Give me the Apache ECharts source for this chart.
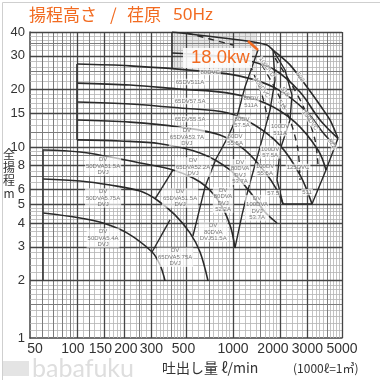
<!DOCTYPE html>
<html><head><meta charset="utf-8">
<script src="https://cdn.jsdelivr.net/npm/echarts@6/dist/echarts.min.js"></script>
<style>html,body{margin:0;padding:0;background:#fff}#c{width:380px;height:380px}</style>
</head><body><div id="c"></div>
<script>
// Axis tick labels
const xTicks = [50, 100, 150, 200, 300, 500, 1000, 2000, 3000, 5000];
const yTicks = [1, 2, 3, 4, 5, 6, 8, 10, 15, 20, 30, 40];
// grid line values
const xMajor = [100, 150, 200, 300, 500, 1000, 2000, 3000, 5000];
const xMedium = [60, 70, 80, 90, 120, 250, 400, 700, 1500, 4000];
const yMajor = [2, 3, 4, 5, 6, 8, 10, 15, 20, 30, 40];
const yMedium = [1.5, 7, 9, 12, 25, 35];
// H-Q curves (flow l/min, head m)
const arcA = [[60.6, 4.51], [104.6, 4.25], [147, 4.0], [209, 3.55], [303, 2.82], [341, 2.41], [367, 1.99]];
const arcB = [[60.6, 6.80], [104.6, 6.64], [163, 6.32], [254, 5.88], [326, 5.28], [425, 4.41], [530, 3.55], [615, 2.82], [692, 1.99]];
const arcC = [[60.6, 9.64], [104.6, 9.41], [163, 8.86], [254, 8.25], [413, 7.58], [615, 6.56], [802, 5.28], [957, 3.91], [1030, 2.96]];
const arcD = [[100, 10.9], [189, 10.75], [341, 10.4], [615, 9.30], [957, 7.58], [1286, 5.81], [1604, 4.57], [1916, 4.0]];
const arcE = [[100, 13.85], [219, 13.5], [458, 12.7], [826, 11.56], [1194, 9.64], [1604, 7.40], [1916, 5.95], [2093, 5.03]];
const arcF = [[100, 17.2], [219, 16.8], [458, 16.0], [916, 15.1], [1384, 13.0], [2003, 10.2], [2690, 7.14], [3212, 5.03]];
const arcG = [[100, 21.6], [219, 21.1], [458, 20.1], [916, 19.2], [1604, 17.0], [2498, 13.5], [3509, 9.64], [3948, 7.58]];
const arcH = [[100, 27.2], [219, 26.6], [615, 25.0], [1110, 23.5], [1860, 20.4], [2896, 15.6], [3890, 11.56], [4576, 10.2]];
const arcI = [[407, 31.05], [826, 29.95], [1286, 28.2], [1860, 25.3], [2690, 19.4], [3614, 13.85], [4713, 11.1]];
const envelope = [[407, 40], [1230, 35.9], [1653, 34.2], [1806, 32.2], [2321, 26.9], [2983, 20.6], [3722, 16.0], [4188, 13.85], [4713, 11.1]];
// model boundaries (straight segments)
const edgeRight = [[4713, 11.1], [3948, 7.58], [3212, 5.03], [2093, 5.03]];
const edgeBox = [[407, 40], [407, 25.6]];
const edge50 = [[60.6, 9.7], [60.6, 2.0]];
const edge65 = [[100, 27.2], [100, 10.9]];
const div50a = [[413, 7.58], [316, 5.34]];
const div50b = [[395, 4.15], [303, 2.82]];
const div65 = [[1447, 32.2], [1194, 20.6], [1061, 14.4], [930, 11.3], [778, 8.65], [662, 6.17], [554, 3.42]];
const div80 = [[1806, 32.2], [1860, 22.4], [1728, 15.6], [1535, 10.9], [1384, 8.05], [1248, 5.95], [1143, 4.41], [1030, 2.96]];
const div100 = [[2093, 5.03], [1916, 6.72], [2003, 9.64], [2321, 13.85], [2390, 18.7], [2156, 25.3], [1806, 32.2]];
// dashed curves
const dashA = [[1860, 29.2], [2390, 21.1], [2896, 15.6], [3356, 10.9], [3509, 8.05]];
const dashB = [[1535, 26.9], [1916, 19.4], [2321, 13.85], [2612, 9.64], [2690, 6.72]];
const dashC = [[507, 39.5], [1000, 34.2]];
const dashD = [[1286, 26.9], [1535, 18.7], [1677, 13.85]];
const orangeSeg = [[1248, 35.9], [1447, 32.2]];
// model labels
const labelText = ['DV\n50DVA51.5A\nDVJ', 'DV\n50DVA5.75A\nDVJ', 'DV\n50DVA5.4A\nDVJ',
  '65DV511A', '65DV57.5A', '65DV55.5A', 'DV\n65DVA53.7A\nDVJ', 'DV\n65DVA52.2A\nDVJ', 'DV\n65DVA51.5A\nDVJ', 'DV\n65DVA5.75A\nDVJ',
  '80DVC', '80DV\n511A', '80DV\n57.5A', '80DV\n55.5A', 'DV\n80DVA\nDVJ\n53.7A', 'DV\n80DVA\nDVJ\n52.2A', 'DV\n80DVA\nDVJ51.5A',
  '100DV\n511A', '100DV\n57.5A', '100DV\n55.5A', 'DV\n100DVA\nDVJ\n53.7A', '125DVC', '57.5', '511'];
const labelQ = [147, 147, 147, 531, 531, 531, 507, 555, 458, 426, 714, 1304, 1143, 1032, 1109, 864, 747, 2006, 1732, 1606, 1427, 2613, 1810, 2987];
const labelH = [7.95, 5.41, 3.34, 21.9, 17.4, 14.0, 11.3, 7.86, 5.41, 2.65, 24.7, 17.2, 13.5, 10.9, 7.4, 5.28, 3.59, 12.3, 9.4, 7.58, 4.8, 7.86, 5.74, 5.8];
const rotText = ['100DVD', '100DVC', '522', '518', '515', '150DVC', '522'];
const rotQ = [1649, 1531, 2697, 2158, 2060, 3127, 4314];
const rotH = [26.2, 20.4, 23.2, 19.4, 16.6, 13.8, 10.4];

function rng(a, b, s) { const r = []; for (let v = a; v <= b + 1e-9; v += s) r.push(+v.toFixed(3)); return r; }
const xMinor = [].concat(rng(55, 95, 5), rng(110, 190, 10), rng(220, 480, 20), rng(550, 950, 50), rng(1100, 1900, 100), rng(2200, 4800, 200));
const yMinor = [].concat(rng(1.1, 1.9, 0.1), rng(2.2, 4.8, 0.2), rng(5.5, 9.5, 0.5), rng(11, 19, 1), rng(22, 38, 2));

function gridSeries(xs, ys, color, width, z) {
  return {
    type: 'line', data: [], z: z, silent: true, animation: false,
    markLine: {
      silent: true, symbol: 'none', animation: false, label: { show: false },
      lineStyle: { color: color, width: width, type: 'solid' },
      data: xs.map(v => ({ xAxis: v })).concat(ys.map(v => ({ yAxis: v })))
    }
  };
}
function curve(d, opt) {
  opt = opt || {};
  return {
    type: 'line', data: d, showSymbol: false, symbol: 'none', smooth: opt.smooth === undefined ? 0.35 : opt.smooth,
    z: opt.z || 5, silent: true, animation: false,
    lineStyle: { color: opt.color || '#2a2a2a', width: opt.width || 1.6, type: opt.type || 'solid' }
  };
}
const series = [
  gridSeries(xMinor, yMinor, '#b4b4b4', 0.8, 1),
  gridSeries(xMedium, yMedium, '#7c7c7c', 1, 2),
  gridSeries(xMajor, yMajor, '#454545', 1.3, 3),
  {
    type: 'line', data: [], z: 2, silent: true,
    markArea: { silent: true, itemStyle: { color: 'rgba(120,120,120,0.18)' }, data: [[{ xAxis: 407, yAxis: 25 }, { xAxis: 1400, yAxis: 40 }]] }
  }
];
[arcA, arcB, arcC, arcD, arcE, arcF, arcG, arcH, arcI].forEach(c => series.push(curve(c)));
series.push(curve(envelope, { smooth: 0.25 }));
[edgeRight, edgeBox, div50a, div50b, div65, div80, div100].forEach(c => series.push(curve(c, { smooth: false, width: 1.4 })));
[edge50, edge65].forEach(c => series.push(curve(c, { smooth: false, width: 1.6, color: '#3a3a3a' })));
[dashA, dashB, dashC, dashD].forEach(c => series.push(curve(c, { smooth: 0.3, width: 1.4, type: [6, 5] })));
series.push(curve(orangeSeg, { smooth: false, color: '#f26b21', width: 2.5, z: 8 }));
series.push({
  type: 'scatter', z: 9, silent: true, symbolSize: 0,
  data: labelText.map((t, i) => ({ name: t, value: [labelQ[i], labelH[i]] })),
  label: { show: true, position: 'inside', formatter: p => p.name, fontSize: 6, lineHeight: 6.5, color: '#555',
    fontFamily: 'Liberation Sans', backgroundColor: 'rgba(255,255,255,0.85)', padding: [0, 1] }
});
series.push({
  type: 'scatter', z: 9, silent: true, symbolSize: 0,
  data: rotText.map((t, i) => ({ name: t, value: [rotQ[i], rotH[i]] })),
  label: { show: true, position: 'inside', rotate: -55, formatter: p => p.name, fontSize: 6, color: '#555',
    fontFamily: 'Liberation Sans', backgroundColor: 'rgba(255,255,255,0.85)', padding: [0, 1] }
});

const pad = { 50: [0, 0, 0, 10], 100: [0, 8, 0, 0], 150: [0, 8, 0, 0], 200: [0, 0, 0, 4], 500: [0, 5, 0, 0], 2000: [0, 14, 0, 0] };
const rich = {};
Object.keys(pad).forEach(k => { rich['p' + k] = { padding: pad[k], fontSize: 14, color: '#333', fontFamily: 'Liberation Sans' }; });

const chart = echarts.init(document.getElementById('c'), null, { renderer: 'canvas' });
chart.setOption({
  animation: false,
  backgroundColor: '#fff',
  grid: { left: 30, right: 38, top: 32, bottom: 42, show: false, containLabel: false, outerBoundsMode: 'none' },
  xAxis: {
    type: 'log', min: 50, max: 5000, logBase: 10,
    axisLine: { show: true, lineStyle: { color: '#444', width: 1.5 } },
    axisTick: { show: false }, splitLine: { show: false },
    axisLabel: { customValues: xTicks, color: '#333', fontSize: 14, fontFamily: 'Liberation Sans', margin: 4, rich: rich,
      formatter: v => pad[v] ? '{p' + v + '|' + v + '}' : String(v) }
  },
  yAxis: {
    type: 'log', min: 1, max: 40, logBase: 10,
    axisLine: { show: true, lineStyle: { color: '#444', width: 1.5 } },
    axisTick: { show: false }, splitLine: { show: false },
    axisLabel: { customValues: yTicks, color: '#333', fontSize: 13, fontFamily: 'Liberation Sans', margin: 5,
      formatter: v => String(v) }
  },
  graphic: [
    { type: 'rect', left: 0, top: 0, shape: { width: 379, height: 379 }, style: { fill: 'none', stroke: '#cfcfcf', lineWidth: 1 } },
    { type: 'text', x: 29, y: 15, style: { text: '揚程高さ', fill: '#f26b21', fontSize: 17, fontFamily: 'Noto Sans CJK JP', verticalAlign: 'middle' } },
    { type: 'text', x: 110, y: 15, style: { text: '/', fill: '#f26b21', fontSize: 17, fontFamily: 'Noto Sans CJK JP', verticalAlign: 'middle' } },
    { type: 'text', x: 127, y: 15, style: { text: '荏原', fill: '#f26b21', fontSize: 17, fontFamily: 'Noto Sans CJK JP', verticalAlign: 'middle' } },
    { type: 'text', x: 173, y: 15, style: { text: '50Hz', fill: '#f26b21', fontSize: 17, fontFamily: 'Noto Sans', verticalAlign: 'middle' } },
    { type: 'text', x: 9, y: 148, style: { text: '全\n揚\n程\nm', fill: '#333', fontSize: 12, lineHeight: 13, align: 'center', fontFamily: 'Noto Sans CJK JP' } },
    { type: 'text', x: 162, y: 368, style: { text: '吐出し量 ℓ/min', fill: '#333', fontSize: 14, fontFamily: 'Noto Sans CJK JP', verticalAlign: 'middle' } },
    { type: 'text', x: 293, y: 368, style: { text: '(1000ℓ=1㎥)', fill: '#333', fontSize: 12, fontFamily: 'Noto Sans CJK JP', verticalAlign: 'middle' } },
    { type: 'text', x: 32, y: 369, style: { text: 'babafuku', fill: '#dedede', fontSize: 25, fontFamily: 'Lato', verticalAlign: 'middle' } },
    { type: 'rect', x: 3, y: 361, shape: { width: 26, height: 15 }, style: { fill: '#e4e4e4' } },
    { type: 'rect', x: 183, y: 48, shape: { width: 69, height: 20 }, style: { fill: 'rgba(255,255,255,0.88)' }, z: 20 },
    { type: 'text', x: 191, y: 58, style: { text: '18.0kw', fill: '#f26b21', fontSize: 18.5, fontFamily: 'Liberation Sans', verticalAlign: 'middle' }, z: 21 }
  ],
  series: series
});
</script></body></html>
